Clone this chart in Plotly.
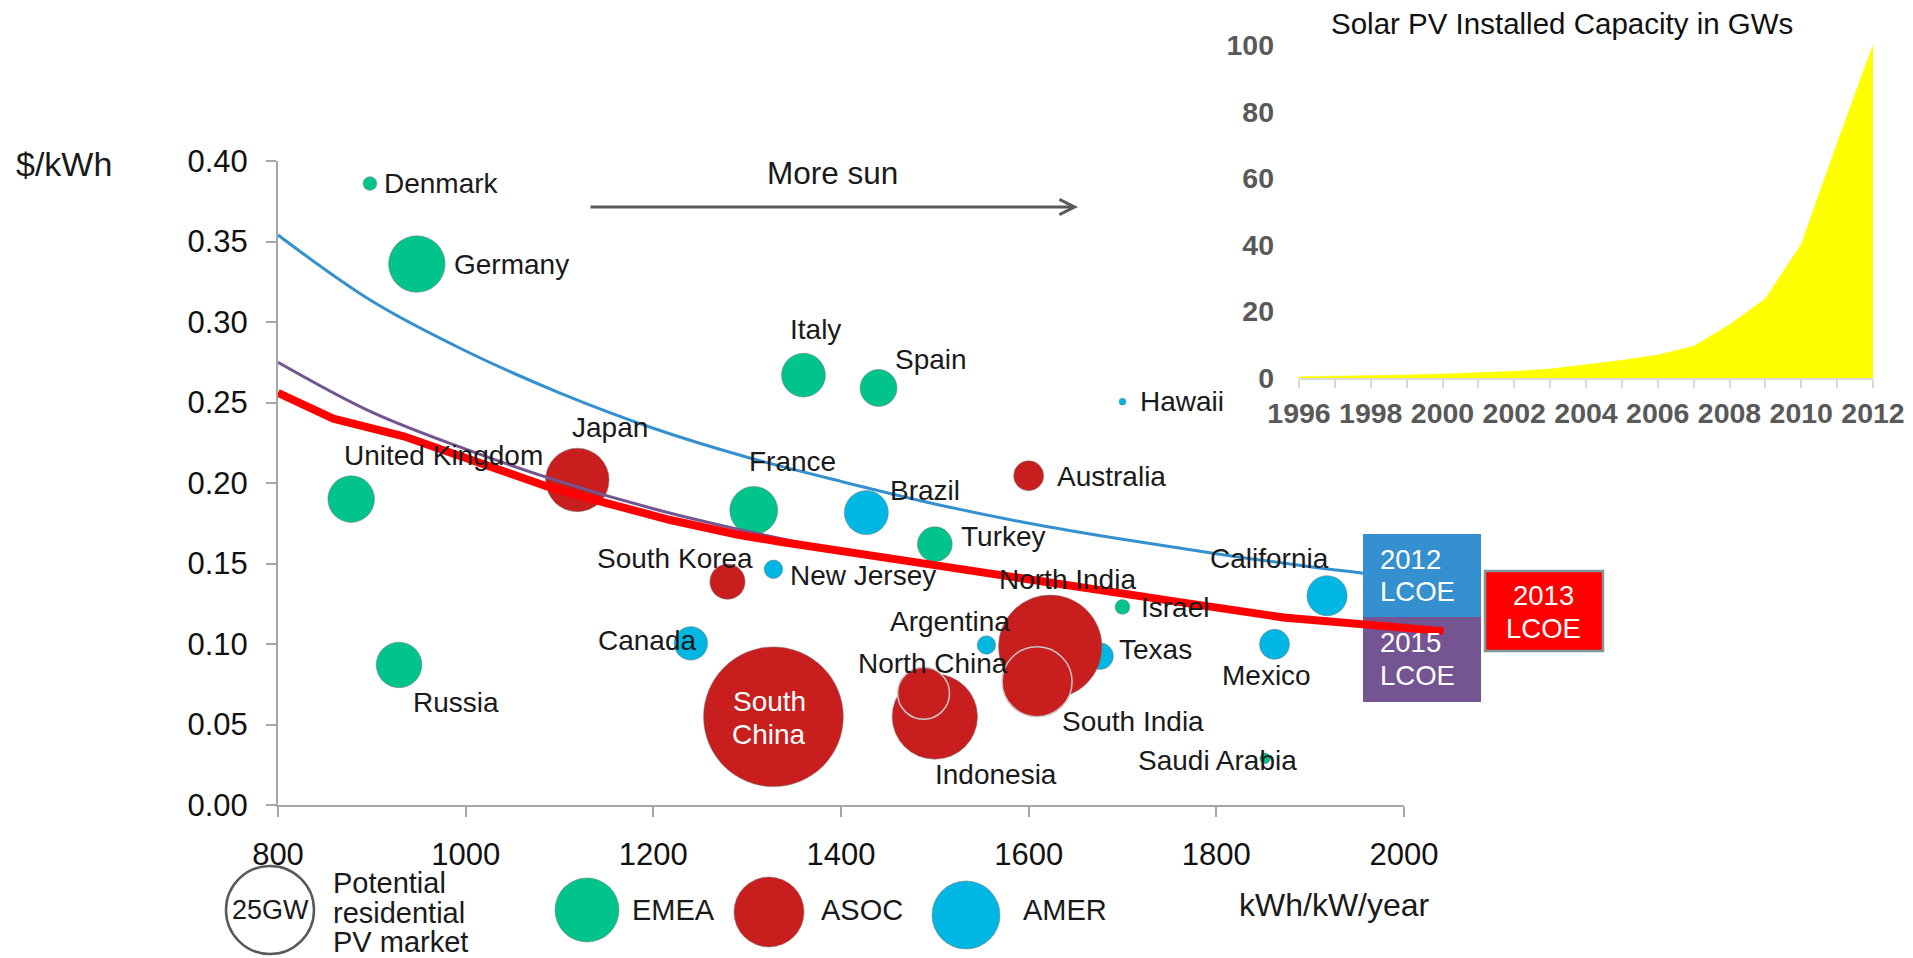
import plotly.graph_objects as go

W, H = 1913, 958
FONT = "Liberation Sans, Arial, sans-serif"

# ---------------- data ----------------
emea_names = ["Denmark", "Germany", "United Kingdom", "Russia", "Italy", "Spain",
              "France", "Turkey", "Israel", "Saudi Arabia"]
emea_x = [898, 948, 878, 929, 1360, 1440, 1307, 1500, 1700, 1852]
emea_y = [0.386, 0.336, 0.190, 0.087, 0.267, 0.259, 0.183, 0.162, 0.123, 0.029]
emea_gw = [0.6, 10.3, 7.0, 6.7, 6.2, 4.4, 7.4, 3.9, 0.7, 0.35]

amer_names = ["Hawaii", "Brazil", "New Jersey", "Canada", "Argentina", "Texas",
              "California", "Mexico"]
amer_x = [1700, 1427, 1328, 1240, 1555, 1676, 1918, 1862]
amer_y = [0.2505, 0.1816, 0.1464, 0.1004, 0.0994, 0.0925, 0.130, 0.0998]
amer_gw = [0.15, 6.25, 1.1, 3.6, 1.1, 2.3, 5.2, 2.9]

asoc_names = ["Japan", "Australia", "South Korea", "South China", "North India",
              "South India", "Indonesia", "North China"]
asoc_x = [1119, 1600, 1279, 1328, 1623, 1609, 1500, 1488]
asoc_y = [0.2019, 0.2045, 0.1387, 0.0548, 0.0983, 0.0766, 0.0549, 0.0694]
asoc_gw = [13.0, 2.9, 4.0, 63.0, 34.5, 15.8, 23.5, 8.7]

lcoe2012_x = [800, 900, 1000, 1100, 1200, 1300, 1400, 1500, 1600, 1700, 1800, 1900, 1957]
lcoe2012_y = [0.354, 0.313, 0.282, 0.256, 0.234, 0.216, 0.201, 0.187, 0.175, 0.165, 0.156, 0.148, 0.144]

lcoe2015_x = [800, 900, 1000, 1100, 1200, 1300, 1400, 1500, 1600, 1700, 1800, 1900, 1957]
lcoe2015_y = [0.275, 0.244, 0.221, 0.201, 0.184, 0.170, 0.158, 0.149, 0.140, 0.131, 0.123, 0.116, 0.112]

lcoe2013_x = [800, 859, 934, 1005, 1086, 1147, 1218, 1289, 1335, 1477, 1619, 1761, 1871, 1978, 2042]
lcoe2013_y = [0.256, 0.240, 0.229, 0.215, 0.198, 0.188, 0.177, 0.168, 0.1635, 0.151, 0.138,
              0.126, 0.1165, 0.111, 0.108]

x_ticks = [800, 1000, 1200, 1400, 1600, 1800, 2000]
y_ticks = [0.00, 0.05, 0.10, 0.15, 0.20, 0.25, 0.30, 0.35, 0.40]

pv_years = list(range(1996, 2013))
pv_capacity = [0.4, 0.5, 0.7, 0.9, 1.2, 1.5, 2.0, 2.7, 3.9, 5.3, 6.9, 9.5, 16.0, 23.8, 40.2, 70.5, 100.0]
pv_y_ticks = [0, 20, 40, 60, 80, 100]

# ---------------- styling ----------------
C_EMEA = "#00C48C"
C_ASOC = "#C81E1E"
C_AMER = "#00B7E3"
C_2012 = "#3590CF"
C_2015 = "#745592"
C_2013 = "#FF0000"
EDGE = "rgba(120,120,120,0.55)"
TXT = "#1A1A1A"

SIZEREF = 2 * 25.0 / 88.0 ** 2   # a 25 GW bubble is 88 px wide

# label offsets in pixels relative to the bubble centre (dx, dy, anchor)
label_pos = {
    "Denmark": (12, 0, "left"), "Germany": (35, 0, "left"),
    "United Kingdom": (-9, 44, "left"), "Russia": (12, -38, "left"),
    "Italy": (12, 46, "center"), "Spain": (14, 29, "left"),
    "France": (39, 49, "center"), "Turkey": (24, 8, "left"),
    "Israel": (16, -1, "left"), "Saudi Arabia": (-48, -2, "center"),
    "Hawaii": (15, 0, "left"), "Brazil": (22, 22, "left"),
    "New Jersey": (15, -6, "left"), "Canada": (8, 3, "right"),
    "Argentina": (-36, 23, "center"), "Texas": (17, 7, "left"),
    "California": (-58, 37, "center"), "Mexico": (-8, -31, "center"),
    "Japan": (33, 52, "center"), "Australia": (26, -1, "left"),
    "South Korea": (28, 23, "right"), "North India": (17, 67, "center"),
    "South India": (23, -40, "left"), "Indonesia": (61, -58, "center"),
    "North China": (9, 30, "center"),
}

X0, X1 = 278, 1404          # main plot area (px)
Y0, Y1 = 161, 805
XR = [800, 2000]
X1_EXT = 1450               # wider invisible axis for the LCOE curves
XR_EXT = [800, 800 + (X1_EXT - X0) * (XR[1] - XR[0]) / (X1 - X0)]


def px(x):
    return x / W


def py(y):
    return 1 - y / H


fig = go.Figure()

# inset area chart
fig.add_trace(go.Scatter(x=pv_years, y=pv_capacity, mode="lines", fill="tozeroy",
                         fillcolor="#FFFF00", line=dict(color="#FFFF00", width=0.5),
                         xaxis="x2", yaxis="y2", hoverinfo="skip", showlegend=False))


def bubbles(xs, ys, gws, names, color, special=()):
    lc = ["#C8C8C8" if n in special else EDGE for n in names]
    lw = [1.5 if n in special else 1 for n in names]
    return go.Scatter(x=xs, y=ys, mode="markers", text=names,
                      marker=dict(size=gws, sizemode="area", sizeref=SIZEREF, color=color,
                                  opacity=1, line=dict(color=lc, width=lw)),
                      showlegend=False, hoverinfo="text")


fig.add_trace(bubbles(emea_x, emea_y, emea_gw, emea_names, C_EMEA))
fig.add_trace(bubbles(amer_x, amer_y, amer_gw, amer_names, C_AMER))
fig.add_trace(bubbles(asoc_x, asoc_y, asoc_gw, asoc_names, C_ASOC,
                      special=("North China", "South India")))

fig.add_trace(go.Scatter(x=lcoe2012_x, y=lcoe2012_y, mode="lines", xaxis="x3", yaxis="y",
                         line=dict(color=C_2012, width=3, shape="spline", smoothing=1.0),
                         showlegend=False, hoverinfo="skip"))
fig.add_trace(go.Scatter(x=lcoe2015_x, y=lcoe2015_y, mode="lines", xaxis="x3", yaxis="y",
                         line=dict(color=C_2015, width=3, shape="spline", smoothing=1.0),
                         showlegend=False, hoverinfo="skip"))
fig.add_trace(go.Scatter(x=lcoe2013_x, y=lcoe2013_y, mode="lines", xaxis="x3", yaxis="y",
                         line=dict(color=C_2013, width=8), showlegend=False, hoverinfo="skip"))

ann = []
shapes = []
LBL = dict(family=FONT, size=28, color=TXT)

for names, xs, ys in ((emea_names, emea_x, emea_y), (amer_names, amer_x, amer_y),
                      (asoc_names, asoc_x, asoc_y)):
    for n, x, y in zip(names, xs, ys):
        if n not in label_pos:
            continue
        dx, dy, anc = label_pos[n]
        ann.append(dict(x=x, y=y, xref="x", yref="y", text=n, showarrow=False,
                        xanchor=anc, yanchor="middle", xshift=dx, yshift=dy, font=LBL))

# South China label inside the bubble
i_sc = asoc_names.index("South China")
for txt, dy in (("South", 15), ("China", -18)):
    ann.append(dict(x=asoc_x[i_sc], y=asoc_y[i_sc], xref="x", yref="y", text=txt,
                    showarrow=False, xanchor="center", yanchor="middle", xshift=-4, yshift=dy,
                    font=dict(family=FONT, size=28, color="white")))

# axis titles & texts
ann.append(dict(x=px(14), y=py(164), xref="paper", yref="paper", text="$/kWh", showarrow=False,
                xanchor="left", yanchor="middle", font=dict(family=FONT, size=34, color=TXT)))
ann.append(dict(x=px(1237), y=py(905), xref="paper", yref="paper", text="kWh/kW/year",
                showarrow=False, xanchor="left", yanchor="middle",
                font=dict(family=FONT, size=32, color=TXT)))
ann.append(dict(x=px(832), y=py(173), xref="paper", yref="paper", text="More sun",
                showarrow=False, xanchor="center", yanchor="middle",
                font=dict(family=FONT, size=31.5, color=TXT)))
ann.append(dict(x=px(1078), y=py(207), xref="paper", yref="paper", text="", showarrow=True,
                ax=-489, ay=0, axref="pixel", ayref="pixel", arrowhead=5, arrowsize=1,
                arrowwidth=3, arrowcolor="#595959"))
ann.append(dict(x=px(1562), y=py(23), xref="paper", yref="paper",
                text="Solar PV Installed Capacity in GWs", showarrow=False,
                xanchor="center", yanchor="middle", font=dict(family=FONT, size=29.5, color="#111111")))

# LCOE boxes
shapes.append(dict(type="rect", xref="paper", yref="paper", x0=px(1363), x1=px(1481),
                   y0=py(617), y1=py(534), fillcolor=C_2012, line=dict(width=0), layer="below"))
shapes.append(dict(type="rect", xref="paper", yref="paper", x0=px(1363), x1=px(1481),
                   y0=py(702), y1=py(617), fillcolor=C_2015, line=dict(width=0), layer="below"))
shapes.append(dict(type="rect", xref="paper", yref="paper", x0=px(1485), x1=px(1603),
                   y0=py(651), y1=py(571), fillcolor=C_2013, line=dict(color="#7F9898", width=2.5),
                   layer="below"))
BOX = dict(family=FONT, size=27.5, color="white")
for txt, xx, yy, anc in (("2012", 1378, 559, "left"), ("LCOE", 1378, 591, "left"),
                         ("2015", 1378, 642, "left"), ("LCOE", 1378, 675, "left"),
                         ("2013", 1543, 595, "center"), ("LCOE", 1543, 628, "center")):
    ann.append(dict(x=px(xx), y=py(yy), xref="paper", yref="paper", text=txt, showarrow=False,
                    xanchor=anc, yanchor="middle", font=BOX))

# bottom legend
LEG = dict(family=FONT, size=29, color=TXT)
shapes.append(dict(type="circle", xref="paper", yref="paper", x0=px(226), x1=px(314),
                   y0=py(954), y1=py(866), line=dict(color="#595959", width=2.5)))
ann.append(dict(x=px(270), y=py(910), xref="paper", yref="paper", text="25GW", showarrow=False,
                xanchor="center", yanchor="middle", font=dict(family=FONT, size=27, color=TXT)))
for txt, yy in (("Potential", 883), ("residential", 913), ("PV market", 942)):
    ann.append(dict(x=px(331), y=py(yy), xref="paper", yref="paper", text=txt, showarrow=False,
                    xanchor="left", yanchor="middle", font=LEG))
for (cx, cy, r, col, txt, tx) in ((587, 910, 32, C_EMEA, "EMEA", 630),
                                  (769, 912, 35, C_ASOC, "ASOC", 819),
                                  (966, 915, 34, C_AMER, "AMER", 1021)):
    shapes.append(dict(type="circle", xref="paper", yref="paper", x0=px(cx - r), x1=px(cx + r),
                       y0=py(cy + r), y1=py(cy - r), fillcolor=col, line=dict(color=EDGE, width=1)))
    ann.append(dict(x=px(tx), y=py(910), xref="paper", yref="paper", text=txt, showarrow=False,
                    xanchor="left", yanchor="middle", font=LEG))

AX = dict(showline=True, linecolor="#A6A6A6", linewidth=2, ticks="outside", ticklen=10,
          tickwidth=2, tickcolor="#A6A6A6", showgrid=False, zeroline=False, fixedrange=True,
          automargin=False)

fig.update_layout(
    template="none",
    width=W, height=H, autosize=False,
    margin=dict(l=0, r=0, t=0, b=0, pad=0),
    paper_bgcolor="white", plot_bgcolor="rgba(0,0,0,0)",
    font=dict(family=FONT, color="#111111"),
    showlegend=False,
    xaxis=dict(domain=[px(X0), px(X1)], range=XR, tickmode="array", tickvals=x_ticks,
               tickfont=dict(family=FONT, size=31, color="#111111"), ticklabelstandoff=11,
               anchor="y", **AX),
    yaxis=dict(domain=[py(Y1), py(Y0)], range=[0, 0.40], tickmode="array", tickvals=y_ticks,
               tickformat=".2f", tickfont=dict(family=FONT, size=31, color="#111111"),
               ticklabelstandoff=12, anchor="x", **AX),
    xaxis3=dict(domain=[px(X0), px(X1_EXT)], range=XR_EXT, visible=False, anchor="y",
                fixedrange=True, automargin=False, showgrid=False, zeroline=False),
    xaxis2=dict(domain=[px(1299), px(1873)], range=[1996, 2012], tickmode="array",
                tickvals=pv_years, ticktext=[str(y) if y % 2 == 0 else "" for y in pv_years],
                tickangle=0, showline=True, linecolor="#D9D9D9", linewidth=2, ticks="outside",
                ticklen=8, tickcolor="#D9D9D9", tickwidth=1.5, showgrid=False, zeroline=False,
                tickfont=dict(family=FONT, size=28.5, color="#595959", weight="bold"),
                ticklabelstandoff=1, anchor="y2", fixedrange=True, automargin=False),
    yaxis2=dict(domain=[py(378), py(45)], range=[0, 100], tickmode="array", tickvals=pv_y_ticks,
                showline=False, ticks="", showgrid=False, zeroline=False,
                tickfont=dict(family=FONT, size=28.5, color="#595959", weight="bold"),
                ticklabelstandoff=24, anchor="x2", fixedrange=True, automargin=False),
    annotations=ann,
    shapes=shapes,
)

fig.write_html("out.html")
